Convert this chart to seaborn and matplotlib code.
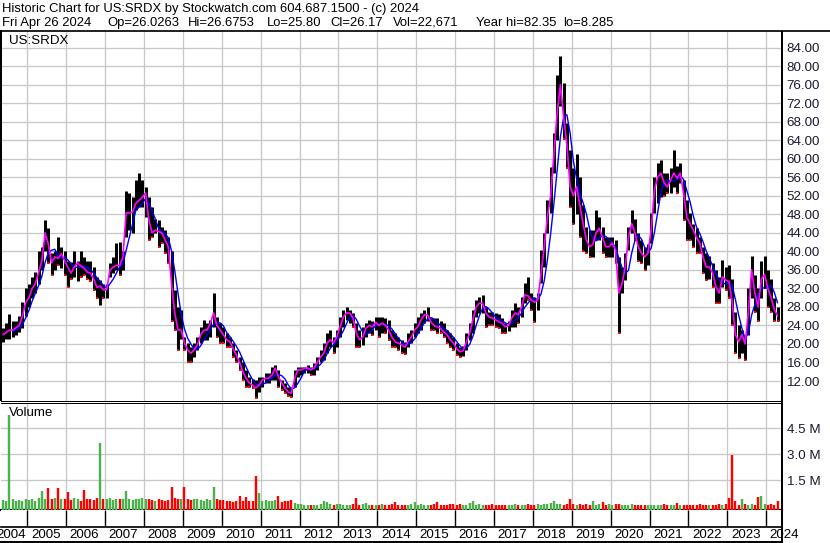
import numpy as np
import pandas as pd
import matplotlib
matplotlib.use('Agg')
import matplotlib.pyplot as plt
import matplotlib.transforms as mtransforms
from matplotlib.lines import Line2D
import seaborn as sns

# ---- data: monthly bars, May 2004 .. Apr 2024 ----
first_year, first_month = 2004, 5

closes = [
    22.0, 22.5, 23.0, 23.0, 23.5, 24.0, 26.0, 29.0,                          # 2004
    30.0, 32.0, 33.0, 35.5, 38.0, 44.0, 41.5, 37.5, 38.8, 38.5, 39.5, 38.0,  # 2005
    36.6, 35.3, 36.6, 37.5, 36.9, 36.4, 35.5, 35.3, 34.0, 32.2, 32.5, 31.7,  # 2006
    31.7, 36.0, 36.6, 37.0, 36.9, 38.8, 48.3, 48.3, 48.5, 50.4, 51.0, 51.7,  # 2007
    52.6, 46.8, 44.0, 44.6, 44.3, 44.0, 42.5, 41.0, 33.0, 26.7, 23.0, 23.0,  # 2008
    20.2, 18.7, 18.0, 18.7, 19.8, 22.0, 23.0, 23.0, 24.5, 26.7, 24.0, 23.0,  # 2009
    22.0, 20.9, 20.5, 19.0, 17.6, 16.0, 14.0, 12.6, 11.6, 11.1, 10.5, 11.1,  # 2010
    12.2, 12.6, 12.6, 13.3, 14.8, 12.9, 11.6, 10.5, 9.6, 9.4, 12.6, 14.4,    # 2011
    14.4, 14.8, 14.8, 14.4, 14.8, 16.1, 17.2, 18.0, 20.2, 20.9, 20.2, 21.5,  # 2012
    23.7, 25.8, 26.7, 26.7, 25.6, 22.4, 20.9, 21.5, 23.4, 24.0, 23.7, 24.7,  # 2013
    24.0, 24.5, 24.0, 23.0, 21.5, 20.4, 20.2, 19.8, 19.3, 20.5, 21.5, 23.0,  # 2014
    23.7, 25.2, 26.3, 26.3, 24.8, 24.0, 23.7, 23.4, 22.6, 22.0, 20.9, 20.2,  # 2015
    19.0, 18.3, 18.5, 20.5, 22.4, 25.2, 28.0, 28.8, 28.8, 26.7, 25.8, 25.6,  # 2016
    25.2, 24.8, 24.5, 23.7, 24.0, 25.6, 26.7, 26.3, 28.0, 30.6, 30.4, 29.5,  # 2017
    29.0, 29.5, 35.0, 41.0, 47.5, 52.0, 61.0, 70.0, 76.0, 69.0, 63.0, 54.0,  # 2018
    52.0, 54.0, 50.0, 46.0, 42.5, 41.0, 41.5, 44.0, 45.0, 43.0, 41.0, 41.0,  # 2019
    41.8, 40.3, 31.0, 33.0, 36.6, 43.0, 46.0, 44.0, 41.0, 39.6, 38.8, 39.6,  # 2020
    44.6, 53.2, 56.0, 56.9, 54.8, 53.9, 55.4, 56.9, 55.8, 56.9, 52.6, 47.4,  # 2021
    46.0, 44.6, 43.0, 41.8, 38.8, 36.6, 36.6, 35.3, 32.3, 31.0, 34.5, 33.8,  # 2022
    33.5, 29.0, 22.0, 20.5, 22.0, 20.0, 27.0, 36.0, 31.0, 28.0, 34.0, 35.0,  # 2023
    32.0, 30.0, 27.5, 26.0,                                                  # 2024
]

lows = [
    20.5, 21.0, 21.0, 21.5, 22.0, 22.5, 23.5, 26.0,
    28.0, 30.0, 31.0, 33.0, 36.0, 40.0, 37.5, 35.0, 36.0, 37.0, 36.5, 35.0,
    32.3, 34.0, 34.5, 33.7, 34.5, 35.0, 34.0, 33.7, 31.7, 30.0, 28.4, 30.0,
    30.0, 34.5, 35.3, 36.0, 35.0, 36.0, 43.0, 44.6, 44.0, 49.0, 49.6, 49.6,
    47.4, 42.5, 43.0, 44.0, 41.0, 41.8, 39.6, 37.5, 25.0, 23.0, 18.7, 21.0,
    18.7, 16.0, 16.0, 17.2, 18.7, 20.2, 20.9, 20.9, 21.5, 23.7, 21.5, 20.2,
    20.2, 19.3, 19.3, 17.2, 16.0, 14.4, 12.2, 10.7, 10.7, 10.5, 8.3, 9.6,
    10.7, 11.6, 11.6, 12.2, 12.2, 10.7, 10.0, 9.4, 8.8, 8.5, 10.7, 12.9,
    13.3, 13.7, 13.7, 13.3, 13.3, 14.4, 16.0, 16.5, 18.0, 19.3, 18.0, 19.3,
    21.5, 23.7, 25.2, 24.5, 23.7, 19.3, 19.3, 19.8, 21.5, 22.4, 22.0, 23.0,
    21.5, 22.4, 22.4, 20.9, 19.3, 19.3, 18.7, 18.0, 17.8, 19.3, 20.2, 21.5,
    22.4, 23.0, 24.5, 25.0, 23.0, 23.0, 22.4, 22.4, 21.5, 20.2, 19.3, 18.7,
    17.6, 17.2, 17.5, 18.7, 20.9, 22.4, 25.8, 26.7, 26.7, 23.7, 24.0, 24.0,
    23.7, 23.5, 22.4, 22.4, 22.8, 23.7, 23.7, 24.5, 25.8, 28.8, 29.5, 27.3,
    24.7, 27.3, 33.2, 36.6, 44.0, 48.3, 56.9, 64.0, 71.5, 64.3, 58.0, 49.6,
    46.0, 48.0, 43.0, 40.0, 39.6, 38.8, 38.8, 42.5, 42.5, 39.6, 38.8, 38.8,
    38.8, 37.5, 22.4, 31.0, 33.8, 40.3, 44.0, 42.5, 38.0, 37.5, 36.0, 37.0,
    41.8, 48.3, 50.4, 51.7, 52.0, 52.6, 52.6, 53.9, 52.6, 54.8, 46.8, 42.5,
    42.5, 41.0, 39.6, 39.6, 35.3, 33.8, 34.0, 32.3, 28.8, 28.8, 32.3, 31.6,
    30.0, 24.0, 18.0, 17.0, 18.0, 16.5, 22.0, 30.0, 27.0, 25.0, 30.0, 32.0,
    28.0, 27.0, 25.0, 25.0,
]

highs = [
    23.5, 24.5, 26.5, 25.0, 25.0, 26.0, 29.0, 32.0,
    33.0, 34.5, 35.5, 40.0, 41.0, 46.8, 45.0, 39.6, 40.0, 43.0, 41.0, 40.0,
    38.0, 37.7, 40.0, 38.0, 40.0, 38.8, 38.0, 38.0, 36.6, 34.5, 33.8, 33.0,
    33.0, 37.5, 38.8, 41.8, 42.0, 40.0, 53.0, 52.6, 51.7, 55.4, 56.9, 55.4,
    54.0, 51.7, 49.6, 47.0, 46.8, 45.3, 44.6, 43.0, 40.0, 31.7, 28.0, 27.3,
    21.5, 20.2, 19.3, 20.2, 21.5, 23.7, 25.2, 24.5, 25.2, 31.0, 25.8, 24.5,
    23.7, 22.4, 21.5, 20.2, 18.7, 17.2, 16.0, 14.4, 12.9, 12.5, 12.2, 12.9,
    12.9, 13.7, 13.7, 15.0, 15.5, 14.4, 12.2, 11.6, 10.7, 10.7, 14.4, 15.0,
    15.0, 15.0, 15.5, 15.0, 15.8, 17.2, 18.7, 20.2, 22.4, 23.0, 21.5, 23.0,
    25.8, 27.3, 28.0, 27.3, 26.7, 24.5, 23.0, 23.7, 24.5, 25.2, 25.0, 25.8,
    25.8, 25.8, 25.5, 25.2, 23.0, 22.4, 21.5, 20.9, 20.5, 22.4, 23.0, 24.5,
    25.8, 26.7, 27.3, 28.0, 25.8, 25.5, 25.5, 25.0, 24.5, 23.0, 22.4, 21.5,
    20.2, 19.3, 19.5, 22.4, 24.5, 27.3, 29.5, 30.2, 30.6, 28.0, 27.0, 27.0,
    26.7, 26.5, 25.5, 24.5, 25.0, 27.3, 28.8, 28.0, 30.2, 33.2, 34.5, 31.0,
    30.2, 31.0, 40.3, 44.0, 51.1, 58.2, 65.6, 78.0, 82.2, 76.3, 67.8, 61.9,
    58.0, 61.0, 56.0, 50.0, 45.3, 44.6, 44.6, 48.9, 47.5, 45.3, 43.0, 43.0,
    43.0, 42.5, 38.8, 36.6, 39.6, 45.3, 48.9, 47.0, 44.0, 42.5, 41.0, 41.5,
    48.3, 56.0, 59.0, 59.7, 57.0, 57.0, 58.0, 61.9, 58.5, 59.0, 55.4, 51.0,
    48.3, 46.0, 45.0, 43.0, 41.0, 39.6, 39.0, 37.5, 36.0, 34.5, 38.1, 36.6,
    37.0, 34.0, 27.0, 24.0, 23.0, 22.0, 32.0, 39.0, 35.0, 32.0, 38.0, 39.0,
    36.0, 34.0, 30.0, 28.0,
]

# volume in millions of shares
volumes = [
    0.35, 0.30, 5.27, 0.40, 0.30, 0.35, 0.30, 0.40,
    0.35, 0.40, 0.30, 0.50, 0.90, 0.45, 1.05, 0.40, 0.50, 1.05, 0.45, 0.40,
    0.80, 0.35, 0.50, 0.40, 0.30, 0.95, 0.45, 0.40, 0.35, 0.50, 3.67, 0.40,
    0.40, 0.50, 0.35, 0.40, 0.45, 0.40, 0.90, 0.40, 0.35, 0.45, 0.40, 0.50,
    0.45, 0.40, 0.35, 0.30, 0.40, 0.35, 0.30, 0.35, 1.10, 0.50, 0.40, 0.45,
    1.10, 0.40, 0.35, 0.45, 0.40, 0.35, 0.30, 0.40, 0.35, 1.10, 0.40, 0.35,
    0.35, 0.30, 0.30, 0.25, 0.30, 0.60, 0.30, 0.55, 0.30, 0.30, 1.75, 0.75,
    0.30, 0.35, 0.30, 0.30, 0.35, 0.60, 0.25, 0.30, 0.30, 0.35, 0.20, 0.15,
    0.15, 0.10, 0.10, 0.08, 0.10, 0.10, 0.15, 0.30, 0.25, 0.15, 0.10, 0.12,
    0.12, 0.10, 0.08, 0.10, 0.15, 0.50, 0.10, 0.12, 0.20, 0.10, 0.08, 0.10,
    0.10, 0.12, 0.10, 0.08, 0.12, 0.27, 0.10, 0.10, 0.08, 0.10, 0.12, 0.27,
    0.10, 0.12, 0.10, 0.08, 0.10, 0.12, 0.27, 0.10, 0.08, 0.10, 0.12, 0.15,
    0.10, 0.12, 0.10, 0.08, 0.20, 0.30, 0.10, 0.12, 0.10, 0.08, 0.10, 0.12,
    0.08, 0.10, 0.10, 0.08, 0.10, 0.10, 0.12, 0.10, 0.08, 0.10, 0.12, 0.10,
    0.10, 0.12, 0.10, 0.15, 0.12, 0.20, 0.30, 0.15, 0.12, 0.10, 0.15, 0.40,
    0.15, 0.10, 0.12, 0.10, 0.15, 0.10, 0.30, 0.10, 0.12, 0.25, 0.10, 0.12,
    0.10, 0.12, 0.15, 0.10, 0.08, 0.10, 0.12, 0.10, 0.08, 0.10, 0.08, 0.10,
    0.08, 0.10, 0.08, 0.10, 0.12, 0.10, 0.08, 0.10, 0.20, 0.10, 0.10, 0.08,
    0.10, 0.08, 0.10, 0.12, 0.10, 0.08, 0.10, 0.08, 0.10, 0.12, 0.10, 0.15,
    0.48, 2.96, 0.30, 0.10, 0.40, 0.15, 0.10, 0.12, 0.10, 0.55, 0.60, 0.15,
    0.10, 0.12, 0.10, 0.33,
]

years = list(range(2004, 2025))
price_ticks = [12, 16, 20, 24, 28, 32, 36, 40, 44, 48, 52, 56, 60, 64, 68, 72, 76, 80, 84]
volume_ticks = [1.5, 3.0, 4.5]

header_1 = 'Historic Chart for US:SRDX by Stockwatch.com 604.687.1500 - (c) 2024'
header_2 = ['Fri Apr 26 2024', 'Op=26.0263', 'Hi=26.6753', 'Lo=25.80',
            'Cl=26.17', 'Vol=22,671', 'Year hi=82.35', 'lo=8.285']
header_2_x = [2, 107, 188, 267, 330, 393, 476, 563]

# ---- layout (pixels of the 830x543 canvas) ----
W, H = 830, 543
PX = 0.72                      # points per pixel at 100 dpi
PX_PER_YEAR = 38.89
X_2005 = 27.3
LEFT, RIGHT = 1.0, 781.7
x_lo = 2005 + (LEFT - X_2005) / PX_PER_YEAR
x_hi = 2005 + (RIGHT - X_2005) / PX_PER_YEAR

GRID = '#c8c8c8'
LABEL = '#1a1a33'
UP_GREEN = '#4cb04c'
FS = 9.6
FS_HEAD = 9.4

sns.set_theme(style='white')
plt.rcParams['font.family'] = ['Liberation Sans', 'DejaVu Sans']

assert len(closes) == len(lows) == len(highs) == len(volumes) == 240

t = first_year + (first_month - 1 + np.arange(len(closes)) + 0.5) / 12
df = pd.DataFrame({'t': t, 'close': closes, 'low': lows, 'high': highs, 'vol': volumes})
df['ma_long'] = df['close'].rolling(4, min_periods=4).mean()
df['up'] = df['close'].diff().fillna(0) >= 0


def frame(left, top, right, bottom):
    return [left / W, 1 - bottom / H, (right - left) / W, (bottom - top) / H]


def fig_line(fig, xs, ys, lw, z=5):
    fig.add_artist(Line2D([x / W for x in xs], [1 - y / H for y in ys],
                          transform=fig.transFigure, color='black', lw=lw * PX,
                          solid_capstyle='butt', zorder=z))


fig = plt.figure(figsize=(W / 100, H / 100), dpi=100)
fig.patch.set_facecolor('white')

# ---- price panel ----
ax_p = fig.add_axes(frame(LEFT, 31, RIGHT, 400.5))
ax_p.vlines(df['t'], df['low'], df['high'], color='black', lw=3.0 * PX, zorder=3)
down = df[~df['up']]
ax_p.plot(down['t'], down['low'], 's', color='red', ms=2.4 * PX, mew=0, zorder=4)
sns.lineplot(data=df, x='t', y='ma_long', color='#0000ff', lw=1.4 * PX, ax=ax_p, zorder=5)
sns.lineplot(data=df, x='t', y='close', color='#ff00ff', lw=1.7 * PX, ax=ax_p, zorder=6)
ax_p.set_xlim(x_lo, x_hi)
ax_p.set_ylim(12 - (400.5 - 381) / 4.63, 12 + (381 - 31) / 4.63)
ax_p.set_xticks(years[1:])
ax_p.set_yticks(price_ticks)
ax_p.set_yticklabels([f'{v:.2f}' for v in price_ticks])
ax_p.yaxis.tick_right()
ax_p.tick_params(axis='x', length=0, labelbottom=False)
ax_p.tick_params(axis='y', length=0, pad=5.0 * PX, labelsize=FS, labelcolor=LABEL)
ax_p.grid(True, color=GRID, lw=1.3 * PX)
ax_p.set_axisbelow(True)
ax_p.set_xlabel('')
ax_p.set_ylabel('')
for side, lw in [('left', 2.0), ('bottom', 1.0), ('right', 0), ('top', 0)]:
    ax_p.spines[side].set_visible(lw > 0)
    ax_p.spines[side].set_color('black')
    ax_p.spines[side].set_linewidth(lw * PX)
ax_p.text(8 / (RIGHT - LEFT), (400.5 - 41) / (400.5 - 31), 'US:SRDX',
          transform=ax_p.transAxes, fontsize=FS, color='black', va='center', ha='left')

# ---- volume panel ----
v_floor = -(509.5 - 506.3) / 17.33
ax_v = fig.add_axes(frame(LEFT, 402.5, RIGHT, 509.5))
bar_colors = np.where(df['up'], UP_GREEN, 'red')
ax_v.vlines(df['t'], v_floor, df['vol'], colors=bar_colors, lw=2.4 * PX, zorder=3)
ax_v.set_xlim(x_lo, x_hi)
ax_v.set_ylim(v_floor, (506.3 - 402.5) / 17.33)
ax_v.set_xticks(years[1:])
ax_v.set_yticks(volume_ticks)
ax_v.set_yticklabels([f'{v:.1f} M' for v in volume_ticks])
ax_v.yaxis.tick_right()
ax_v.tick_params(axis='x', length=0, labelbottom=False)
ax_v.tick_params(axis='y', length=0, pad=5.0 * PX, labelsize=FS, labelcolor=LABEL)
ax_v.grid(True, color=GRID, lw=1.3 * PX)
ax_v.set_axisbelow(True)
for side, lw in [('left', 0), ('bottom', 2.2), ('right', 0), ('top', 1.0)]:
    ax_v.spines[side].set_visible(lw > 0)
    ax_v.spines[side].set_color('black')
    ax_v.spines[side].set_linewidth(lw * PX)
ax_v.text(8 / (RIGHT - LEFT), (509.5 - 413.5) / (509.5 - 402.5), 'Volume',
          transform=ax_v.transAxes, fontsize=FS, color='black', va='center', ha='left')

# ---- date strip and year labels ----
ax_d = fig.add_axes(frame(LEFT, 509.5, RIGHT, 526.5))
ax_d.set_xlim(x_lo, x_hi)
ax_d.set_ylim(0, 1)
ax_d.vlines(years[1:], 0, 1, color='black', lw=1.4 * PX)
ax_d.set_xticks([])
ax_d.set_yticks([])
for side, lw in [('left', 0), ('bottom', 1.7), ('right', 0), ('top', 0)]:
    ax_d.spines[side].set_visible(lw > 0)
    ax_d.spines[side].set_color('black')
    ax_d.spines[side].set_linewidth(lw * PX)
blend = mtransforms.blended_transform_factory(ax_d.transData, ax_d.transAxes)
label_y = (526.5 - 535.5) / (526.5 - 509.5)
gap = 3.6 / PX_PER_YEAR
ax_d.text(years[1] - 1.3 / PX_PER_YEAR, label_y, str(years[0]), transform=blend,
          ha='right', va='center', fontsize=FS, color='black', clip_on=False)
for yr in years[1:]:
    ax_d.text(yr + gap, label_y, str(yr), transform=blend,
              ha='left', va='center', fontsize=FS, color='black', clip_on=False)

# ---- outer frame lines ----
fig_line(fig, [0, W], [31, 31], 1.7)
fig_line(fig, [RIGHT, RIGHT], [31, H], 2.0)
fig_line(fig, [0, RIGHT], [542, 542], 2.0)

# ---- header ----
fig.text(2 / W, 1 - 12.3 / H, header_1, fontsize=FS_HEAD, color='black', va='baseline', ha='left')
for txt, x in zip(header_2, header_2_x):
    fig.text(x / W, 1 - 25.7 / H, txt, fontsize=FS_HEAD, color='black', va='baseline', ha='left')

fig.savefig('out.png', dpi=100, facecolor='white')
